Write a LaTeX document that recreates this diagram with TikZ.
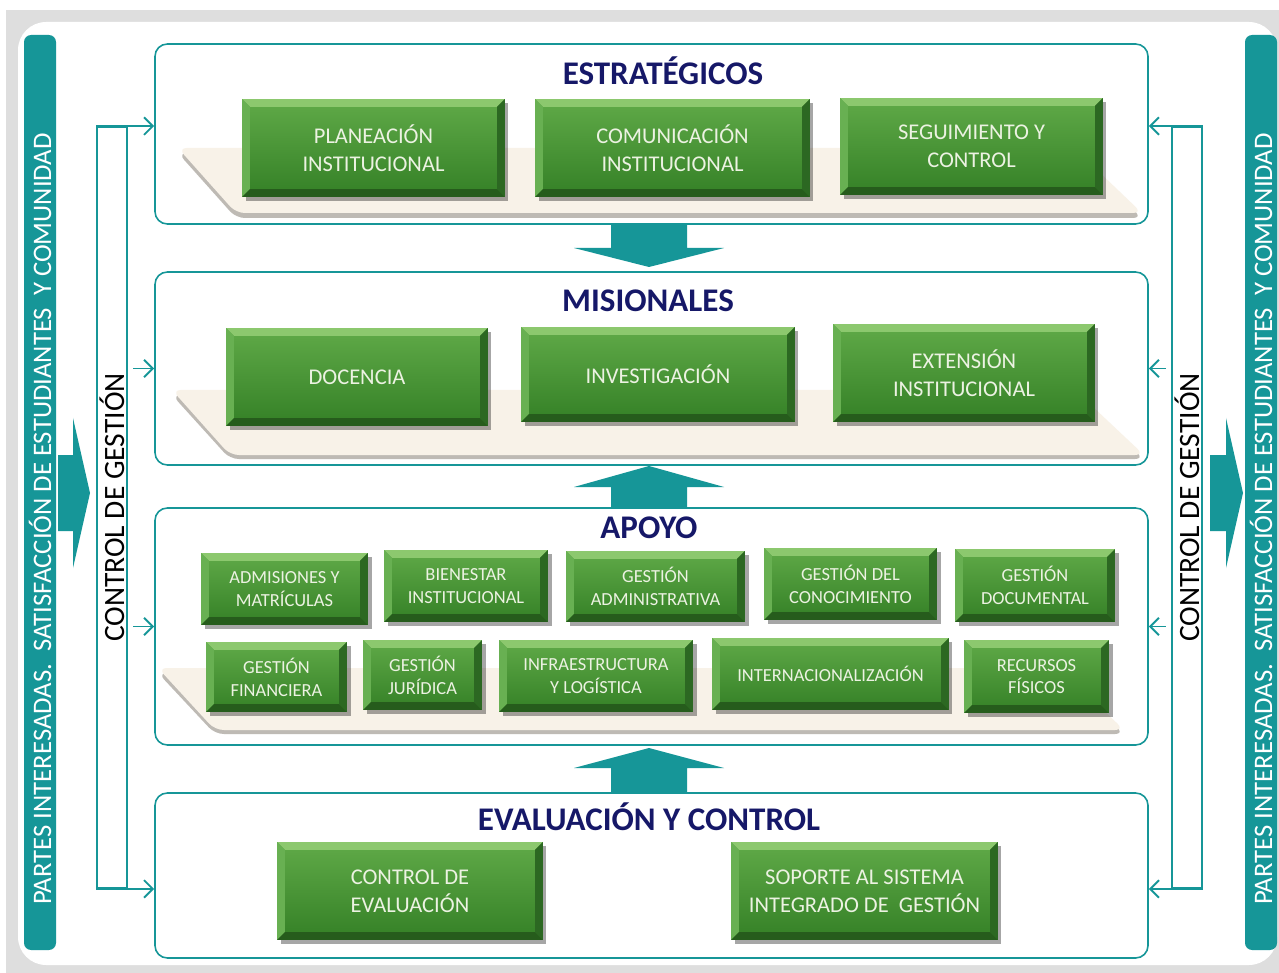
\documentclass[tikz,border=0pt]{standalone}
\usepackage{fontspec}
\setmainfont{Carlito}
\usetikzlibrary{arrows.meta, calc, fit, shadows}

\definecolor{tealc}{RGB}{22,150,152}
\definecolor{navyc}{RGB}{22,24,104}
\definecolor{framegray}{RGB}{222,222,222}
\definecolor{boxtext}{RGB}{236,242,226}
\definecolor{gface1}{RGB}{96,170,72}
\definecolor{gface2}{RGB}{52,128,38}
\definecolor{bevtop}{RGB}{140,200,110}
\definecolor{bevleft}{RGB}{104,176,82}
\definecolor{bevright}{RGB}{44,104,34}
\definecolor{bevbot}{RGB}{38,92,28}
\definecolor{shelftop}{RGB}{248,242,232}
\definecolor{shelfrim}{RGB}{190,186,180}

\begin{document}
\begin{tikzpicture}[x=0.02cm, y=-0.02cm,
  panel/.style={draw=tealc, line width=0.9pt, rounded corners=7pt, fill=white, inner sep=0pt},
  paneltitle/.style={text=navyc, font=\fontsize{18.8}{22}\selectfont\bfseries},
  procbox/.style={rectangle, inner sep=0pt, align=center, text=boxtext,
    font=\fontsize{12.8}{16}\selectfont, top color=gface1, bottom color=gface2,
    drop shadow={shadow xshift=2pt, shadow yshift=-2pt, opacity=0.35, fill=black},
    path picture={
      \path (path picture bounding box.north west) coordinate (b1)
            (path picture bounding box.south east) coordinate (b3);
      \fill[bevtop] (b1) -- (b1 -| b3) -- ($(b1 -| b3)+(-4.5pt,-4.5pt)$) -- ($(b1)+(4.5pt,-4.5pt)$) -- cycle;
      \fill[bevleft] (b1) -- ($(b1)+(4.5pt,-4.5pt)$) -- ($(b1 |- b3)+(4.5pt,4.5pt)$) -- (b1 |- b3) -- cycle;
      \fill[bevright] (b1 -| b3) -- (b3) -- ($(b3)+(-4.5pt,4.5pt)$) -- ($(b1 -| b3)+(-4.5pt,-4.5pt)$) -- cycle;
      \fill[bevbot] (b1 |- b3) -- ($(b1 |- b3)+(4.5pt,4.5pt)$) -- ($(b3)+(-4.5pt,4.5pt)$) -- (b3) -- cycle;
    }},
  smallbox/.style={procbox, font=\fontsize{10.5}{13}\selectfont},
  sidebar/.style={fill=tealc, rounded corners=4pt, inner sep=0pt},
  sidetext/.style={rotate=90, text=white, font=\fontsize{15.2}{18}\selectfont},
  ctlbox/.style={draw=tealc, line width=1.1pt, inner sep=0pt},
  ctltext/.style={rotate=90, font=\fontsize{16.8}{20}\selectfont},
  ctlarr/.style={draw=tealc, line width=1.1pt, -{Straight Barb[length=5pt, width=10pt]}},
  shelf/.style={fill=shelftop, rounded corners=5pt},
  flowfill/.style={fill=tealc},
  pics/flowarrow/.style n args={2}{code={
    \fill[flowfill] (-38,-#1) -- (38,-#1) -- (38,0) -- (75,0) -- (0,#2) -- (-75,0) -- (-38,0) -- cycle;}}]

  \useasboundingbox (0,0) rectangle (1279,973);
  \fill[framegray] (6,10) rectangle (1279,973);
  \fill[white, rounded corners=16pt] (18,22) rectangle (1277,965);

  % side bars
  \node[sidebar, fit={(24,35) (56,950)}] (barL) {};
  \node[sidebar, fit={(1245,35) (1277,950)}] (barR) {};
  \node[sidetext] (txtL) at (40,519) {PARTES INTERESADAS.\ \ SATISFACCIÓN DE ESTUDIANTES\ \ Y COMUNIDAD};
  \node[sidetext] (txtR) at (1261,519) {PARTES INTERESADAS.\ \ SATISFACCIÓN DE ESTUDIANTES\ \ Y COMUNIDAD};
  \pic[rotate=90] at (73,493) {flowarrow={15}{17}};
  \pic[rotate=90] at (1226,493) {flowarrow={16}{17}};

  % panels
  \node[panel, fit={(155,44) (1148,224)}] (panE) {};
  \node[panel, fit={(155,272) (1148,465)}] (panM) {};
  \node[panel, fit={(155,508) (1148,745)}] (panA) {};
  \node[panel, fit={(155,793) (1148,958)}] (panV) {};

  % shelves
  \fill[shelfrim, rounded corners=5pt] (178,153) -- (1074,153) -- (1142,218) -- (236,218) -- cycle;
  \fill[shelf] (178,148) -- (1074,148) -- (1142,213) -- (236,213) -- cycle;
  \fill[shelfrim, rounded corners=5pt] (172,395) -- (1075,395) -- (1144,459) -- (230,459) -- cycle;
  \fill[shelf] (172,390) -- (1075,390) -- (1144,455) -- (230,455) -- cycle;
  \fill[shelfrim, rounded corners=5pt] (158,673) -- (1060,673) -- (1124,734) -- (215,734) -- cycle;
  \fill[shelf] (158,668) -- (1060,668) -- (1124,730) -- (215,730) -- cycle;

  \node[paneltitle] (tE) at (663,71) {ESTRATÉGICOS};
  \node[paneltitle] (tM) at (648,301) {MISIONALES};
  \node[paneltitle] (tA) at (649,528) {APOYO};
  \node[paneltitle] (tV) at (649,817) {EVALUACIÓN Y CONTROL};

  \node[procbox, minimum width=5.26cm, minimum height=1.96cm] (plan) at (373.5,148) {PLANEACIÓN\\INSTITUCIONAL};
  \node[procbox, minimum width=5.5cm, minimum height=1.96cm] (comu) at (672.5,148) {COMUNICACIÓN\\INSTITUCIONAL};
  \node[procbox, minimum width=5.26cm, minimum height=1.94cm] (segu) at (971.5,146.5) {SEGUIMIENTO Y\\CONTROL};

  \node[procbox, minimum width=5.24cm, minimum height=1.96cm] (doce) at (357,377) {DOCENCIA};
  \node[procbox, minimum width=5.48cm, minimum height=1.9cm] (inve) at (658,374.5) {INVESTIGACIÓN};
  \node[procbox, minimum width=5.24cm, minimum height=1.96cm] (exte) at (964,373) {EXTENSIÓN\\INSTITUCIONAL};

  \node[smallbox, minimum width=3.34cm, minimum height=1.44cm] (admi) at (284.5,589) {ADMISIONES Y\\MATRÍCULAS};
  \node[smallbox, minimum width=3.28cm, minimum height=1.44cm] (bien) at (466,586) {BIENESTAR\\INSTITUCIONAL};
  \node[smallbox, minimum width=3.58cm, minimum height=1.42cm] (gadm) at (655.5,586.5) {GESTIÓN\\ADMINISTRATIVA};
  \node[smallbox, minimum width=3.46cm, minimum height=1.44cm] (gcon) at (850.5,584) {GESTIÓN DEL\\CONOCIMIENTO};
  \node[smallbox, minimum width=3.2cm, minimum height=1.46cm] (gdoc) at (1035,585.5) {GESTIÓN\\DOCUMENTAL};
  \node[smallbox, minimum width=2.82cm, minimum height=1.4cm] (gfin) at (276.5,677) {GESTIÓN\\FINANCIERA};
  \node[smallbox, minimum width=2.38cm, minimum height=1.4cm] (gjur) at (422.5,675) {GESTIÓN\\JURÍDICA};
  \node[smallbox, minimum width=3.88cm, minimum height=1.44cm] (infr) at (596,676) {INFRAESTRUCTURA\\Y LOGÍSTICA};
  \node[smallbox, minimum width=4.74cm, minimum height=1.44cm] (inte) at (830.5,674) {INTERNACIONALIZACIÓN};
  \node[smallbox, minimum width=2.9cm, minimum height=1.46cm] (recu) at (1036.5,676.5) {RECURSOS\\FÍSICOS};

  \node[procbox, minimum width=5.32cm, minimum height=1.96cm] (ctev) at (410,891) {CONTROL DE\\EVALUACIÓN};
  \node[procbox, minimum width=5.34cm, minimum height=1.96cm] (sopo) at (864.5,891) {SOPORTE AL SISTEMA\\INTEGRADO DE\ \ GESTIÓN};

  % flow between panels
  \pic at (649,248) {flowarrow={24}{19}};
  \pic[rotate=180] at (649,487) {flowarrow={21}{21}};
  \pic[rotate=180] at (649,768) {flowarrow={25}{20}};

  % control de gestion
  \node[ctlbox, fit={(97,127) (127,888)}] (ctlL) {};
  \node[ctlbox, fit={(1172,127) (1202,888)}] (ctlR) {};
  \node[ctltext] at (ctlL) {CONTROL DE GESTIÓN};
  \node[ctltext] at (ctlR) {CONTROL DE GESTIÓN};

  \draw[ctlarr] (ctlL.north west) -- (ctlL.north west -| panE.west);
  \draw[ctlarr] ($(ctlL.east |- panM.west)+(3pt,0)$) -- (panM.west);
  \draw[ctlarr] ($(ctlL.east |- panA.west)+(3pt,0)$) -- (panA.west);
  \draw[ctlarr] (ctlL.south west) -- (ctlL.south west -| panV.west);
  \draw[ctlarr] (ctlR.north east) -- (ctlR.north east -| panE.east);
  \draw[ctlarr] ($(ctlR.west |- panM.east)+(-3pt,0)$) -- (panM.east);
  \draw[ctlarr] ($(ctlR.west |- panA.east)+(-3pt,0)$) -- (panA.east);
  \draw[ctlarr] (ctlR.south east) -- (ctlR.south east -| panV.east);
\end{tikzpicture}
\end{document}
